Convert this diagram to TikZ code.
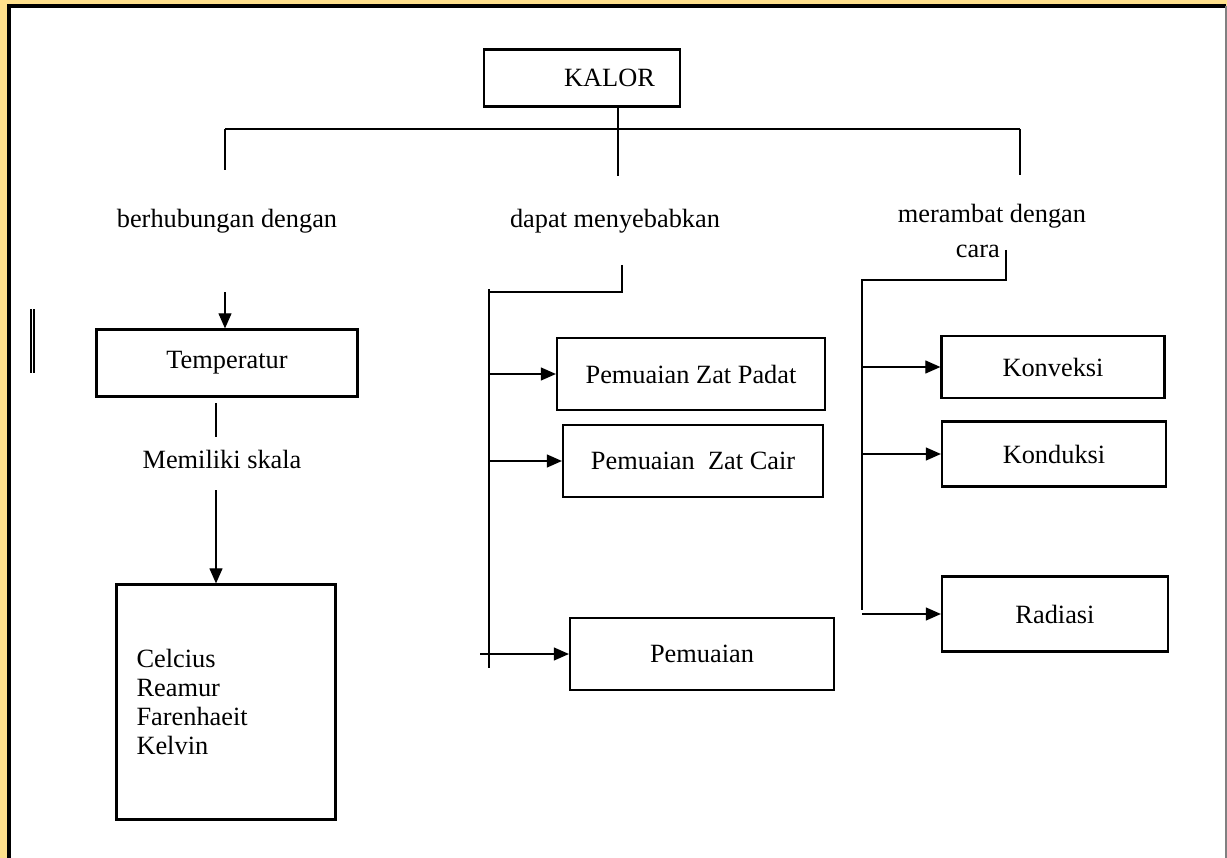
\documentclass[tikz,border=0pt]{standalone}
\usepackage{fontspec}
\setmainfont{Liberation Serif}
\usepackage{tikz}
\usetikzlibrary{arrows.meta, positioning}
\definecolor{pagegold}{HTML}{FFE08C}

\begin{document}
\begin{tikzpicture}[
                  x=0.02cm, y=-0.02cm,
                  box/.style={
                              draw, line width=1.3pt, inner sep=0pt,
                              font=\fontsize{15}{16.5}\selectfont, align=center
                        },
                  lbl/.style={font=\fontsize{15}{18}\selectfont, inner sep=0pt, align=center},
                  link/.style={line width=0.6pt},
                  arrow/.style={link, -{Triangle[length=0.3cm, width=0.26cm]}},
            ]
            \useasboundingbox (0,0) rectangle (1227,858);
            \fill[pagegold] (0,0) rectangle (1227,858);
            \fill[white] (9,6) rectangle (1226,875);
            \draw[line width=1.8pt] (9,875) -- (9,6) -- (1226,6);
            \draw[gray, line width=0.8pt] (1226,6) -- (1226,875);

            % Top
            \node[box, minimum width=3.92cm, minimum height=1.14cm] (kalor) at (582,78) {\hspace*{1.1cm}KALOR};
            \coordinate (hub) at (618,129);
            \coordinate (hubleft) at (225,129);
            \coordinate (hubright) at (1020,129);

            \node[lbl] (berhub) at (227,221) {berhubungan dengan};
            \node[lbl] (dapat) at (615,221) {dapat menyebabkan};
            \node[lbl, align=left] (merambat) at (992,231) {merambat dengan\\[2pt]\hspace*{1.16cm}cara};

            \draw[link] (hubleft) -- (hubright);
            \draw[link] (hubleft) -- ++(0,41);
            \draw[link] (kalor.south -| hub) -- ++(0,68);
            \draw[link] (hubright) -- ++(0,46);

            % Temperatur
            \node[box, minimum width=5.22cm, minimum height=1.34cm] (temp) at (227,363) {Temperatur};
            \node[lbl] (skala) at (222,459) {Memiliki skala};
            \node[box, minimum width=4.38cm, minimum height=4.7cm, text width=3.58cm,
                  inner xsep=0.4cm, align=left] (satuan) at (226,702) {Celcius\\Reamur\\Farenhaeit\\Kelvin};

            \coordinate (temparrow) at (225,292);
            \draw[arrow] (temparrow) -- (temparrow |- temp.north);
            \coordinate (skalatop) at (216,403);
            \draw[link] (skalatop) -- ++(0,34);
            \coordinate (skalaarrow) at (216,490);
            \draw[arrow] (skalaarrow) -- (skalaarrow |- satuan.north);

            % Pemuaian
            \node[box, minimum width=5.36cm, minimum height=1.44cm] (padat) at (691,374) {Pemuaian Zat Padat};
            \node[box, minimum width=5.2cm, minimum height=1.44cm] (cair) at (693,461) {Pemuaian\ \ Zat Cair};
            \node[box, minimum width=5.28cm, minimum height=1.44cm] (muai) at (702,654) {Pemuaian};

            \coordinate (midtop) at (622,265);
            \coordinate (midcorner) at (622,292);
            \coordinate (midleft) at (489,292);
            \coordinate (midbottom) at (489,668);
            \draw[link] (midtop) -- (midcorner) -- (midleft);
            \draw[link] ([yshift=0.06cm]midleft) -- (midbottom);
            \draw[arrow] (padat.west -| midleft) -- (padat.west);
            \draw[arrow] (cair.west -| midleft) -- (cair.west);
            \draw[arrow] ([xshift=-0.18cm]muai.west -| midleft) -- (muai.west);

            % Perambatan
            \node[box, minimum width=4.46cm, minimum height=1.24cm] (konveksi) at (1053,367) {Konveksi};
            \node[box, minimum width=4.48cm, minimum height=1.3cm] (konduksi) at (1054,454) {Konduksi};
            \node[box, minimum width=4.52cm, minimum height=1.5cm] (radiasi) at (1055,614) {Radiasi};

            \coordinate (righttop) at (1006,250);
            \coordinate (rightcorner) at (1006,280);
            \coordinate (rightleft) at (862,280);
            \coordinate (rightbottom) at (862,610);
            \draw[link] (righttop) -- (rightcorner) -- (rightleft) -- (rightbottom);
            \draw[arrow] (konveksi.west -| rightleft) -- (konveksi.west);
            \draw[arrow] (konduksi.west -| rightleft) -- (konduksi.west);
            \draw[arrow] (radiasi.west -| rightleft) -- (radiasi.west);

            % side mark
            \draw[link] (31,309) -- (31,373);
            \draw[link] (34,309) -- (34,373);
      \end{tikzpicture}
\end{document}
